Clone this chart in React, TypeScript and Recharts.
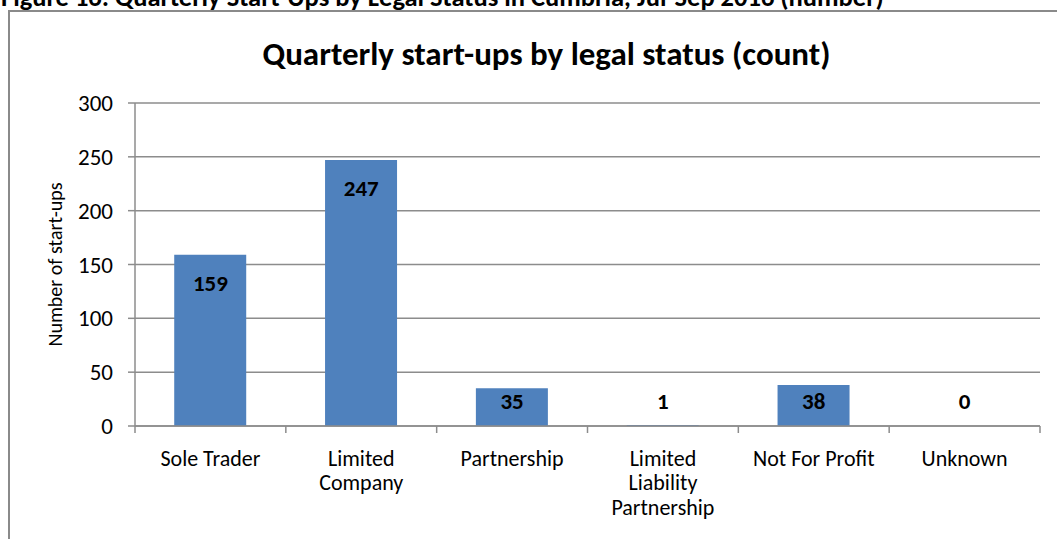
import React from 'react';
import { ComposedChart, Bar, Line, XAxis, YAxis, CartesianGrid, LabelList, Text } from 'recharts';

const CATEGORIES = ['Sole Trader', 'Limited Company', 'Partnership', 'Limited Liability Partnership', 'Not For Profit', 'Unknown'];
const START_UPS = [159, 247, 35, 1, 38, 0];
const Y_TICKS = [0, 50, 100, 150, 200, 250, 300];

// how Excel wrapped the category labels
const TICK_LINES: Record<string, string[]> = {
  'Limited Company': ['Limited', 'Company'],
  'Limited Liability Partnership': ['Limited', 'Liability', 'Partnership'],
};

const FONT = 'Carlito, Calibri, Lato, sans-serif';
const W = 1057;
const H = 539;
const MARGIN = { top: 103, right: 17, bottom: 13, left: 0 };
const Y_AXIS_W = 135;
const X_AXIS_H = 100;
const PLOT_W = W - MARGIN.left - MARGIN.right - Y_AXIS_W;
const BASELINE_Y = H - MARGIN.bottom - X_AXIS_H;
const AXIS_GREY = '#8c8c8c';

const data = CATEGORIES.map((name, i) => ({ name, value: START_UPS[i] }));

const CategoryTick = (props: any) => {
  const { x, y, payload, index } = props;
  const band = PLOT_W / CATEGORIES.length;
  const lines = TICK_LINES[payload.value] || [payload.value];
  const left = x - band / 2;
  return (
    <g>
      <line x1={left} x2={left} y1={y - 8} y2={y - 1} stroke={AXIS_GREY} strokeWidth={1.5} />
      {index === CATEGORIES.length - 1 && (
        <line x1={left + band} x2={left + band} y1={y - 8} y2={y - 1} stroke={AXIS_GREY} strokeWidth={1.5} />
      )}
      {lines.map((l, i) => (
        <Text key={i} x={x} y={y + 24 + i * 24.5} textAnchor="middle" verticalAnchor="middle"
          fontSize={22} fontFamily={FONT} fill="#000">{l}</Text>
      ))}
    </g>
  );
};

// inside-end labels, pushed up out of short bars like Excel does
const ValueLabel = (props: any) => {
  const { x, y, value } = props;
  const cy = Math.min(y + 28, BASELINE_Y - 25);
  return (
    <text x={x} y={cy} textAnchor="middle" dominantBaseline="central"
      fontSize={23} fontWeight="bold" fontFamily={FONT} fill="#000">{value}</text>
  );
};

export default function App() {
  return (
    <div style={{ position: 'absolute', left: 0, top: 0, width: W, height: H, overflow: 'hidden', background: '#fff', fontFamily: FONT }}>
      <div style={{ position: 'absolute', left: 1, top: -16, fontSize: 26.5, lineHeight: '26px', fontWeight: 'bold', whiteSpace: 'nowrap' }}>
        Figure 16: Quarterly Start-Ups by Legal Status in Cumbria, Jul-Sep 2016 (number)
      </div>
      <div style={{ position: 'absolute', left: 8, top: 10, width: 1200, height: 700, border: '2px solid #8a8a8a' }} />
      <div style={{ position: 'absolute', left: 0, top: 34, width: W, textAlign: 'center', fontSize: 33, lineHeight: '40px', fontWeight: 'bold', paddingLeft: 36, boxSizing: 'border-box' }}>
        Quarterly start-ups by legal status (count)
      </div>
      <div style={{ position: 'absolute', left: 0, top: 0 }}>
        <ComposedChart width={W} height={H} data={data} margin={MARGIN} barCategoryGap="26%">
          <CartesianGrid horizontal vertical={false} stroke={AXIS_GREY} strokeWidth={1.5} />
          <XAxis dataKey="name" height={X_AXIS_H} axisLine={{ stroke: AXIS_GREY, strokeWidth: 1.5 }}
            tickLine={false} tick={<CategoryTick />} interval={0} />
          <YAxis width={Y_AXIS_W} domain={[0, 300]} ticks={Y_TICKS} interval={0}
            axisLine={{ stroke: AXIS_GREY, strokeWidth: 1.5 }} tickLine={{ stroke: AXIS_GREY, strokeWidth: 1.5 }}
            tickSize={7} tickMargin={15} tick={{ fontSize: 23, fill: '#000', fontFamily: FONT }}
            label={{ value: 'Number of start-ups', angle: -90, position: 'insideLeft', offset: 0, dx: 55,
              style: { fontSize: 20, fill: '#000', fontFamily: FONT, textAnchor: 'middle' } }} />
          <Bar dataKey="value" fill="#4F81BD" isAnimationActive={false} />
          {/* invisible carrier for the data labels so the zero value still gets one */}
          <Line dataKey="value" stroke="none" dot={false} activeDot={false} isAnimationActive={false}>
            <LabelList dataKey="value" content={<ValueLabel />} />
          </Line>
        </ComposedChart>
      </div>
    </div>
  );
}
